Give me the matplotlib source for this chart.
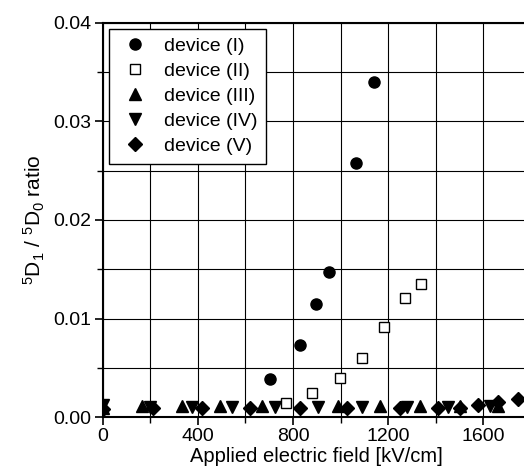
import matplotlib
matplotlib.use('Agg')
import matplotlib.pyplot as plt
from matplotlib.ticker import MultipleLocator

plt.rcParams['font.family'] = ['Liberation Sans', 'DejaVu Sans']
plt.rcParams['mathtext.fontset'] = 'custom'
plt.rcParams['mathtext.rm'] = 'Liberation Sans'
plt.rcParams['mathtext.it'] = 'Liberation Sans'

# field [kV/cm] and 5D1/5D0 ratio per device
dev1_x = [705, 830, 896, 950, 1066, 1141]
dev1_y = [0.00385, 0.0073, 0.0115, 0.0147, 0.0258, 0.0340]

dev2_x = [772, 880, 998, 1090, 1183, 1273, 1337]
dev2_y = [0.0014, 0.0024, 0.0040, 0.0060, 0.0091, 0.0121, 0.0135]

dev3_x = [0, 164, 332, 493, 668, 991, 1166, 1334, 1502, 1660]
dev3_y = [0.0009, 0.0011, 0.0011, 0.0011, 0.0011, 0.0011, 0.0011, 0.0011, 0.0011, 0.0011]

dev4_x = [0, 199, 374, 542, 725, 907, 1089, 1278, 1453, 1629]
dev4_y = [0.0012, 0.0010, 0.0010, 0.0010, 0.0010, 0.0010, 0.0010, 0.0010, 0.0010, 0.0011]

dev5_x = [0, 212, 416, 619, 830, 1026, 1250, 1411, 1502, 1580, 1663, 1747]
dev5_y = [0.0008, 0.0009, 0.0009, 0.0009, 0.0009, 0.0009, 0.0009, 0.0009, 0.0009, 0.0012, 0.0015, 0.0018]

fig = plt.figure(figsize=(5.24, 4.74), dpi=100)
ax = fig.add_axes([0.196, 0.120, 0.817, 0.832])

ax.plot(dev1_x, dev1_y, 'o', color='black', ms=8, label='device (I)')
ax.plot(dev2_x, dev2_y, 's', mfc='white', mec='black', mew=1.0, ms=7.5, label='device (II)')
ax.plot(dev3_x, dev3_y, '^', color='black', ms=9, label='device (III)')
ax.plot(dev4_x, dev4_y, 'v', color='black', ms=9, label='device (IV)')
ax.plot(dev5_x, dev5_y, 'D', color='black', ms=7.5, label='device (V)')

ax.set_xlim(0, 1800)
ax.set_ylim(0, 0.04)
ax.xaxis.set_major_locator(MultipleLocator(400))
ax.xaxis.set_minor_locator(MultipleLocator(200))
ax.yaxis.set_major_locator(MultipleLocator(0.01))
ax.yaxis.set_minor_locator(MultipleLocator(0.005))
ax.yaxis.set_major_formatter(plt.FormatStrFormatter('%.2f'))

ax.grid(which='both', color='black', lw=0.8)
ax.set_axisbelow(True)
ax.tick_params(which='major', direction='out', length=6, width=1.2, labelsize=14,
               colors='black', pad=2)
ax.tick_params(which='minor', direction='out', length=4, width=1.0)
for s in ('left', 'bottom', 'top'):
    ax.spines[s].set_linewidth(1.5)
ax.spines['right'].set_visible(False)

ax.set_xlabel('Applied electric field [kV/cm]', fontsize=14.5, labelpad=1)
ax.set_ylabel(r'$^{5}$D$_{1}$ / $^{5}$D$_{0}$ ratio', fontsize=15, labelpad=5)

leg = ax.legend(loc='upper left', fontsize=14, frameon=True, fancybox=False,
                edgecolor='black', framealpha=1, borderpad=0.45, labelspacing=0.38,
                handletextpad=0.6, borderaxespad=0.3, handlelength=1.8)
leg.get_frame().set_linewidth(1.0)

fig.savefig('out.png', dpi=100)
